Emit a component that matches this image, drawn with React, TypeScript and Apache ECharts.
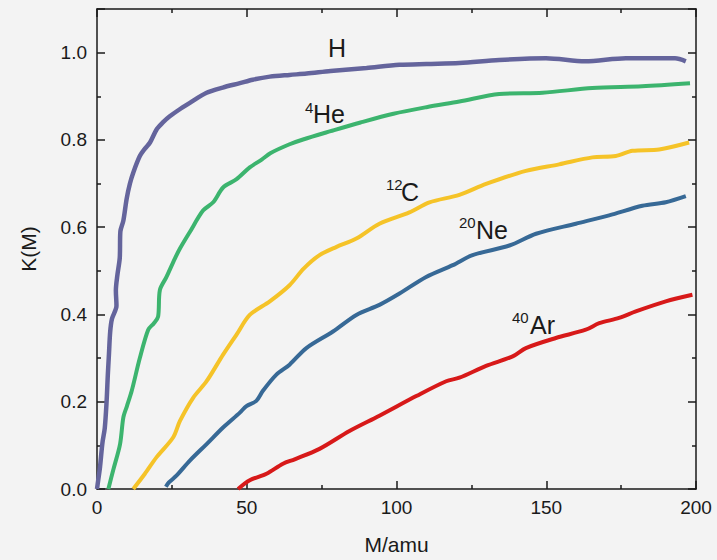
import React, { useEffect, useRef } from "react";
import * as echarts from "echarts";

const xTicks = [0, 50, 100, 150, 200];
const yTicks = [0, 0.2, 0.4, 0.6, 0.8, 1.0];

const hData = [
  [0, 0], [0.4, 0.02], [1.0, 0.05], [1.8, 0.105], [2.6, 0.14], [3.2, 0.2], [3.6, 0.26], [4.0, 0.31],
  [4.4, 0.36], [5.0, 0.39], [6.5, 0.42], [6.3, 0.455], [6.8, 0.49], [7.6, 0.53], [7.8, 0.59],
  [8.8, 0.615], [9.9, 0.665], [11, 0.7], [12.1, 0.725], [14.3, 0.763], [16, 0.78], [17.7, 0.794],
  [19.9, 0.824], [22, 0.84], [24.3, 0.854], [28, 0.872], [31, 0.885], [36.6, 0.908], [42, 0.92],
  [47.7, 0.93], [52, 0.938], [57.7, 0.945], [64.3, 0.949], [70, 0.952], [78, 0.958], [90, 0.965],
  [101, 0.972], [110, 0.974], [121, 0.976], [134.3, 0.983], [149.9, 0.987], [163, 0.98],
  [176.6, 0.987], [193, 0.987], [196.6, 0.98],
];

const heData = [
  [3.8, 0], [5.4, 0.043], [7.7, 0.103], [8.8, 0.164], [10, 0.19], [11.6, 0.225], [14.3, 0.3],
  [17.1, 0.365], [19, 0.38], [20.4, 0.395], [21, 0.456], [23.2, 0.486], [26, 0.528], [27.7, 0.551],
  [31, 0.589], [35.4, 0.638], [38.8, 0.657], [42.1, 0.691], [46.6, 0.71], [51, 0.737], [55, 0.755],
  [58, 0.77], [64.3, 0.79], [68.8, 0.801], [78, 0.82], [88, 0.84], [99, 0.86], [110, 0.875],
  [121, 0.888], [134.3, 0.905], [148.8, 0.908], [165.4, 0.919], [182, 0.923], [198, 0.93],
];

const cData = [
  [12.1, 0], [16, 0.035], [19.9, 0.073], [25.4, 0.118], [27.7, 0.156], [32.1, 0.209], [36.6, 0.247],
  [42.1, 0.308], [46.6, 0.354], [51, 0.399], [57.7, 0.43], [64.3, 0.467], [69, 0.505], [74.3, 0.536],
  [80, 0.555], [86.6, 0.574], [94.3, 0.608], [104.3, 0.634], [111, 0.657], [121, 0.674],
  [129.9, 0.699], [143.2, 0.729], [154.3, 0.744], [165.4, 0.76], [173.2, 0.763], [178.8, 0.775],
  [187.7, 0.778], [197.7, 0.794],
];

const neData = [
  [23, 0.005], [24, 0.015], [26.6, 0.031], [31, 0.065], [36.6, 0.103], [42.1, 0.141], [47.7, 0.175],
  [49.9, 0.19], [53.2, 0.202], [55.4, 0.225], [59.9, 0.262], [64.3, 0.285], [69.9, 0.323],
  [78.8, 0.361], [86.6, 0.399], [94.3, 0.422], [101, 0.448], [109.9, 0.486], [118.8, 0.513],
  [125.4, 0.536], [137.7, 0.558], [146.6, 0.585], [159.9, 0.608], [171, 0.627], [182.1, 0.649],
  [189.9, 0.657], [196.6, 0.671],
];

const arData = [
  [47.1, 0], [51, 0.02], [56.6, 0.035], [62.1, 0.058], [66, 0.068], [74.3, 0.092], [84.3, 0.133],
  [94.3, 0.168], [106.6, 0.213], [116.6, 0.247], [121, 0.255], [129.9, 0.282], [138.8, 0.304],
  [143.2, 0.323], [153.2, 0.346], [163.2, 0.365], [167.7, 0.38], [174.3, 0.392], [179.9, 0.407],
  [189.9, 0.43], [198.8, 0.445],
];

const seriesNames = ["H", "4He", "12C", "20Ne", "40Ar"];
const seriesData = [hData, heData, cData, neData, arData];
const seriesColors = ["#64649c", "#3cb46e", "#f5c328", "#376996", "#d71919"];

// annotation labels: superscript, main text
const labelSup = ["", "4", "12", "20", "40"];
const labelMain = ["H", "He", "C", "Ne", "Ar"];

const FONT = "'Liberation Sans', Arial, sans-serif";
const INK = "#1a1a1a";

export default function App() {
  const ref = useRef<HTMLDivElement>(null);

  useEffect(() => {
    document.body.style.margin = "0";
    document.body.style.background = "#f3f3f3";
    if (!ref.current) return;
    const chart = echarts.init(ref.current, undefined, { renderer: "svg" });

    const lineStyle = { color: INK, width: 1.5 };
    const baseX = {
      type: "value" as const,
      min: 0,
      max: 200,
      interval: 50,
      splitLine: { show: false },
      axisLine: { show: true, onZero: false, lineStyle },
      axisTick: { show: true, inside: true, length: 8, lineStyle },
      minorTick: { show: true, splitNumber: 2, length: 4, lineStyle },
    };
    const baseY = {
      type: "value" as const,
      min: 0,
      max: 1.1,
      interval: 0.2,
      splitLine: { show: false },
      axisLine: { show: true, onZero: false, lineStyle },
      axisTick: { show: true, inside: true, length: 8, lineStyle },
      minorTick: { show: true, splitNumber: 2, length: 4, lineStyle },
    };

    // label layout (pixel positions of annotation texts)
    const pos = [
      { x: 328, y: 47.5, sx: 0, sy: 0 },
      { x: 313, y: 114, sx: 305, sy: 107 },
      { x: 401, y: 192, sx: 386, sy: 184 },
      { x: 476, y: 230, sx: 459, sy: 222.5 },
      { x: 530, y: 325, sx: 512, sy: 317.5 },
    ];
    const graphics: any[] = [];
    labelMain.forEach((t, i) => {
      graphics.push({
        type: "text",
        x: pos[i].x,
        y: pos[i].y,
        style: { text: t, font: `25px ${FONT}`, fill: INK, align: "left", verticalAlign: "middle" },
      });
      if (labelSup[i]) {
        graphics.push({
          type: "text",
          x: pos[i].sx,
          y: pos[i].sy,
          style: { text: labelSup[i], font: `15px ${FONT}`, fill: INK, align: "left", verticalAlign: "middle" },
        });
      }
    });

    chart.setOption({
      animation: false,
      backgroundColor: "#f3f3f3",
      textStyle: { fontFamily: FONT },
      grid: { left: 97, right: 21, top: 9, bottom: 68, containLabel: false },
      xAxis: [
        {
          ...baseX,
          position: "bottom",
          name: "M/amu",
          nameLocation: "middle",
          nameGap: 45,
          nameTextStyle: { fontSize: 21, color: INK, fontFamily: FONT },
          axisLabel: {
            fontSize: 19,
            color: INK,
            margin: 9,
            fontFamily: FONT,
            customValues: xTicks,
            formatter: (v: number) => String(v),
          },
        },
        { ...baseX, position: "top", axisLabel: { show: false } },
      ],
      yAxis: [
        {
          ...baseY,
          position: "left",
          name: "K(M)",
          nameLocation: "middle",
          nameGap: 58,
          nameTextStyle: { fontSize: 21, color: INK, fontFamily: FONT },
          axisLabel: {
            fontSize: 19,
            color: INK,
            margin: 10,
            fontFamily: FONT,
            customValues: yTicks,
            formatter: (v: number) => (v > 1.05 ? "" : v.toFixed(1)),
          },
        },
        { ...baseY, position: "right", axisLabel: { show: false } },
      ],
      series: seriesData.map((d, i) => ({
        name: seriesNames[i],
        type: "line",
        xAxisIndex: 0,
        yAxisIndex: 0,
        data: d,
        showSymbol: false,
        smooth: 0.3,
        lineStyle: { color: seriesColors[i], width: i === 0 ? 4.5 : 4 },
        itemStyle: { color: seriesColors[i] },
      })),
      graphic: graphics,
    });

    return () => chart.dispose();
  }, []);

  return <div ref={ref} style={{ width: 717, height: 560, background: "#f3f3f3" }} />;
}
